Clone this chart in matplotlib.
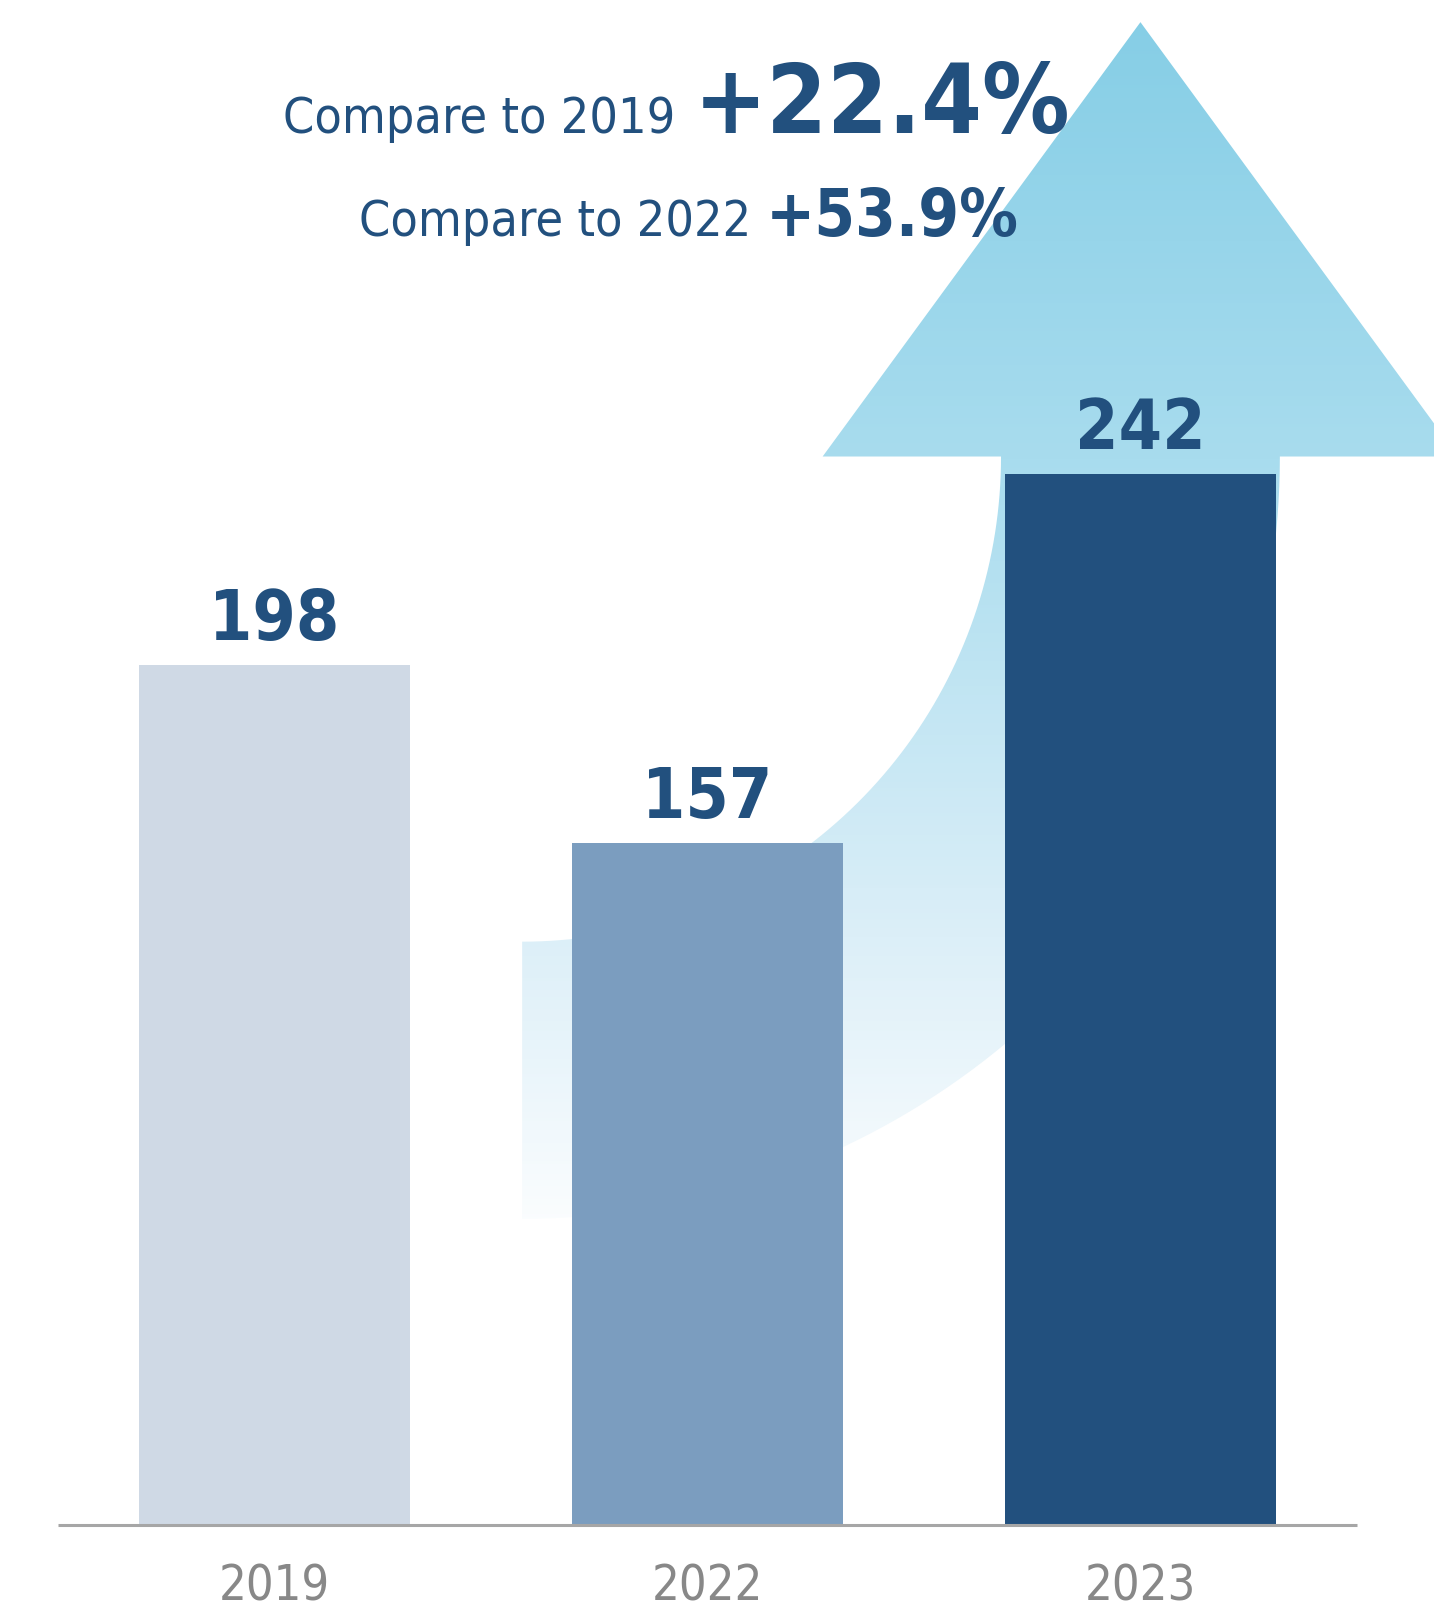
import numpy as np
import matplotlib
matplotlib.use("Agg")
import matplotlib.pyplot as plt
from matplotlib.patches import Polygon
from matplotlib.colors import LinearSegmentedColormap

plt.rcParams['font.family'] = ['DejaVu Sans']
plt.rcParams['font.stretch'] = 'condensed'

# data
years = ["2019", "2022", "2023"]
values = [198, 157, 242]
bar_colors = ["#cfd9e5", "#7b9dbf", "#22507e"]
growth_labels = ["Compare to 2019", "Compare to 2022"]
growth_values = ["+22.4%", "+53.9%"]

navy = "#22507e"

W, H, DPI = 1434, 1609, 100
fig = plt.figure(figsize=(W / DPI, H / DPI), dpi=DPI)
ax = fig.add_axes([0, 84 / H, 1, 1525 / H])
ax.set_xlim(-0.634, 2.678)
ax.set_ylim(0, 351.1)
for s in ax.spines.values():
    s.set_visible(False)
ax.set_yticks([])

x = np.arange(len(years))
bw = 0.626

# big curved arrow behind the last bar
cx, cy = 0.572, values[2] + 4
shaft_l, shaft_r = x[2] - 0.322, x[2] + 0.322
head_w, tip = 0.734, 346
rin_x, rin_y = shaft_l - cx, 111.7
rout_x, rout_y = shaft_r - cx, 175.5
t_out = np.linspace(0, -np.pi / 2, 80)
t_in = t_out[::-1]
pts = [(x[2], tip), (x[2] + head_w, cy), (shaft_r, cy)]
pts += list(zip(cx + rout_x * np.cos(t_out), cy + rout_y * np.sin(t_out)))
pts += list(zip(cx + rin_x * np.cos(t_in), cy + rin_y * np.sin(t_in)))
pts += [(shaft_l, cy), (x[2] - head_w, cy)]
arrow = Polygon(pts, closed=True, facecolor="none", edgecolor="none")
ax.add_patch(arrow)

stops = [(346.3, "#86cee6"), (246.1, "#a8dcee"), (134.7, "#dceff8"), (60, "#ffffff")]
lo, hi = stops[-1][0], stops[0][0]
cmap = LinearSegmentedColormap.from_list(
    "fade", [((hi - y) / (hi - lo), c) for y, c in stops])
grad = np.linspace(0, 1, 400).reshape(-1, 1)
img = ax.imshow(grad, cmap=cmap, aspect="auto", origin="upper",
                extent=[cx, x[2] + head_w, lo, hi], zorder=1)
img.set_clip_path(arrow)

# bars and value labels
ax.bar(x, values, width=bw, color=bar_colors, zorder=2)
for xi, v in zip(x, values):
    ax.annotate(str(v), (xi, v), xytext=(0, 18), textcoords="offset points",
                ha="center", va="baseline", fontsize=50, fontweight="bold",
                color=navy, zorder=3)

# baseline and year labels
ax.hlines(0, -0.5, 2.5, color="#a6a6a6", lw=2.2, clip_on=False, zorder=3)
ax.set_xticks(x)
ax.set_xticklabels(years, fontsize=35, color="#888888")
ax.tick_params(axis="x", length=0, pad=27)

# headline growth figures
fig.text(675 / W, 1 - 133 / H, growth_labels[0], ha="right", va="baseline",
         fontsize=36, color=navy)
fig.text(694 / W, 1 - 133 / H, growth_values[0], ha="left", va="baseline",
         fontsize=70, fontweight="bold", color=navy)
fig.text(751 / W, 1 - 236 / H, growth_labels[1], ha="right", va="baseline",
         fontsize=36, color=navy)
fig.text(766 / W, 1 - 236 / H, growth_values[1], ha="left", va="baseline",
         fontsize=47, fontweight="bold", color=navy)

fig.savefig("out.png", dpi=DPI)
